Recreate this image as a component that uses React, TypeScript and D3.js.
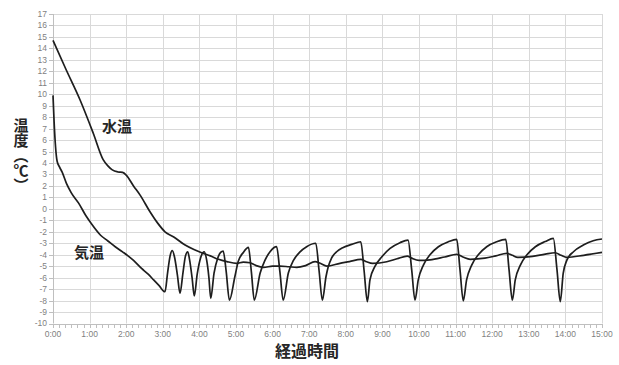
import * as d3 from 'd3'

// 気温 (air temperature): elapsed hours / °C
const airTime = [
  0, 0.03, 0.07, 0.11, 0.17, 0.25, 0.37, 0.5, 0.7, 0.9, 1.05, 1.3, 1.5, 1.7, 1.9, 2.05, 2.2, 2.42, 2.6, 2.75, 2.9, 3.06,
  3.13, 3.2, 3.26, 3.32, 3.4, 3.47,
  3.55, 3.62, 3.68, 3.73, 3.8, 3.86,
  3.94, 4.04, 4.13, 4.2, 4.26, 4.31,
  4.4, 4.5, 4.58, 4.65, 4.73, 4.82,
  4.97, 5.06, 5.2, 5.34, 5.42, 5.5,
  5.66, 5.79, 5.93, 6.11, 6.2, 6.29,
  6.43, 6.57, 6.75, 6.93, 7.18, 7.27, 7.36,
  7.46, 7.52, 7.61, 7.75, 7.93, 8.16, 8.41, 8.5, 8.59,
  8.66, 8.8, 8.98, 9.21, 9.48, 9.7, 9.8, 9.89,
  9.98, 10.12, 10.3, 10.53, 10.8, 11.03, 11.12, 11.21,
  11.3, 11.44, 11.62, 11.85, 12.12, 12.37, 12.46, 12.55,
  12.63, 12.77, 12.95, 13.18, 13.45, 13.67, 13.77, 13.86,
  13.94, 14.04, 14.22, 14.49, 14.76, 15,
]
const airTemp = [
  9.9, 7.6, 5.4, 4.2, 3.7, 3.2, 2.2, 1.4, 0.5, -0.6, -1.3, -2.3, -2.8, -3.3, -3.75, -4.1, -4.5, -5.2, -5.7, -6.2, -6.7, -7.23,
  -5.6, -4.1, -3.65, -4.2, -5.8, -7.37,
  -5.6, -4.1, -3.74, -4.4, -6.0, -7.6,
  -5.7, -4.2, -3.74, -4.5, -6.0, -7.8,
  -5.6, -4.3, -3.8, -3.68, -5.4, -7.96,
  -5.9, -4.6, -3.8, -3.36, -5.5, -7.96,
  -5.6, -4.5, -3.74, -3.3, -5.5, -7.96,
  -5.6, -4.5, -3.75, -3.3, -3.0, -5.4, -7.96,
  -5.9, -5.05, -4.3, -3.74, -3.36, -3.1, -2.87, -5.4, -8.1,
  -6.2, -5.0, -4.2, -3.45, -2.95, -2.72, -5.3, -7.96,
  -6.2, -4.9, -4.0, -3.3, -2.87, -2.66, -5.3, -8.02,
  -6.2, -4.9, -4.0, -3.3, -2.87, -2.66, -5.3, -7.96,
  -6.2, -4.9, -4.0, -3.3, -2.85, -2.57, -5.3, -8.09,
  -5.63, -4.47, -3.74, -3.16, -2.78, -2.63,
]

// 水温 (water temperature)
const waterTime = [
  0, 0.35, 0.74, 1.1, 1.37, 1.5, 1.62, 1.78, 1.9, 2.0, 2.2, 2.38, 2.65, 2.85, 3.06, 3.3, 3.61, 3.85, 4.06, 4.3,
  4.52, 4.75, 5.02, 5.2, 5.38, 5.55, 5.75, 6.0, 6.2, 6.45, 6.66, 6.9, 7.16, 7.3, 7.48, 7.84, 8.1, 8.41, 8.57,
  8.73, 9.12, 9.4, 9.68, 9.8, 10.0, 10.3, 10.7, 11.03, 11.2, 11.4, 11.8, 12.1, 12.4, 12.55, 12.7, 13.1, 13.45,
  13.72, 13.88, 14.04, 14.5, 15,
]
const waterTemp = [
  14.7, 12.2, 9.5, 6.6, 4.3, 3.75, 3.4, 3.22, 3.18, 2.95, 2.0, 1.2, -0.25, -1.2, -2.0, -2.45, -3.16, -3.55, -3.83, -4.1,
  -4.4, -4.6, -4.75, -4.65, -4.7, -4.95, -5.1, -5.0, -4.99, -5.05, -5.1, -4.95, -4.61, -4.75, -4.99, -4.75, -4.6, -4.4, -4.61,
  -4.75, -4.61, -4.35, -4.12, -4.3, -4.5, -4.45, -4.2, -3.97, -4.2, -4.4, -4.3, -4.1, -3.88, -4.05, -4.23, -4.15, -3.95,
  -3.83, -4.05, -4.23, -4.05, -3.8,
]

const hourTicks = d3.range(0, 16)
const tempTicks = d3.range(-10, 18)
const minorTicks = d3.range(0, 15 * 6 + 1).map((i) => i / 6)

export default function App() {
  const width = 619
  const height = 365
  const x = d3.scaleLinear().domain([0, 15]).range([53, 602])
  const y = d3.scaleLinear().domain([-10, 17]).range([323.5, 14])

  const line = d3
    .line<[number, number]>()
    .x((d) => x(d[0]))
    .y((d) => y(d[1]))
    .curve(d3.curveMonotoneX)

  const air = airTime.map((t, i) => [t, airTemp[i]] as [number, number])
  const water = waterTime.map((t, i) => [t, waterTemp[i]] as [number, number])

  const tickFont = '"Liberation Sans", Arial, sans-serif'
  const cjk = '"Noto Sans CJK JP", sans-serif'

  return (
    <svg
      width={width}
      height={height}
      style={{ position: 'absolute', left: 0, top: 0, background: '#fff' }}
    >
      {/* grid */}
      <g stroke="#d9d9d9" strokeWidth={1}>
        {tempTicks.map((t) => (
          <line key={'h' + t} x1={x(0)} x2={x(15)} y1={Math.round(y(t)) + 0.5} y2={Math.round(y(t)) + 0.5} />
        ))}
        {hourTicks.slice(1).map((h) => (
          <line key={'v' + h} x1={Math.round(x(h)) + 0.5} x2={Math.round(x(h)) + 0.5} y1={y(17)} y2={y(-10)} />
        ))}
      </g>

      {/* axes */}
      <g stroke="#bfbfbf" strokeWidth={1}>
        <line x1={x(0) + 0.5} x2={x(0) + 0.5} y1={y(17)} y2={y(-10)} />
        <line x1={x(0)} x2={x(15)} y1={Math.round(y(-10)) + 0.5} y2={Math.round(y(-10)) + 0.5} />
        {tempTicks.map((t) => (
          <line key={'yt' + t} x1={x(0) - 4} x2={x(0)} y1={Math.round(y(t)) + 0.5} y2={Math.round(y(t)) + 0.5} />
        ))}
        {minorTicks.map((m, i) => (
          <line
            key={'xt' + i}
            x1={Math.round(x(m)) + 0.5}
            x2={Math.round(x(m)) + 0.5}
            y1={Math.round(y(-10))}
            y2={Math.round(y(-10)) + 4}
          />
        ))}
      </g>

      {/* tick labels */}
      <g fontFamily={tickFont} fontSize={8.5} fill="#7f7f7f">
        {tempTicks.map((t) => (
          <text key={'yl' + t} x={x(0) - 6} y={y(t)} dy="0.35em" textAnchor="end">
            {t}
          </text>
        ))}
        {hourTicks.map((h) => (
          <text key={'xl' + h} x={x(h)} y={337} textAnchor="middle">
            {h + ':00'}
          </text>
        ))}
      </g>

      {/* series */}
      <g fill="none" stroke="#1e1e1e" strokeWidth={1.7} strokeLinejoin="round">
        <path d={line(water) ?? ''} />
        <path d={line(air) ?? ''} />
      </g>

      {/* labels */}
      <g fontFamily={cjk} fontWeight="bold" fill="#262626">
        <text x={117} y={125} fontSize={15} textAnchor="middle" dominantBaseline="central">
          水温
        </text>
        <text x={89} y={251} fontSize={15} textAnchor="middle" dominantBaseline="central">
          気温
        </text>
        <text x={307} y={357} fontSize={16} textAnchor="middle">
          経過時間
        </text>
        <text x={21} y={118} fontSize={15} style={{ writingMode: 'vertical-rl' }}>
          温度（℃）
        </text>
      </g>
    </svg>
  )
}
